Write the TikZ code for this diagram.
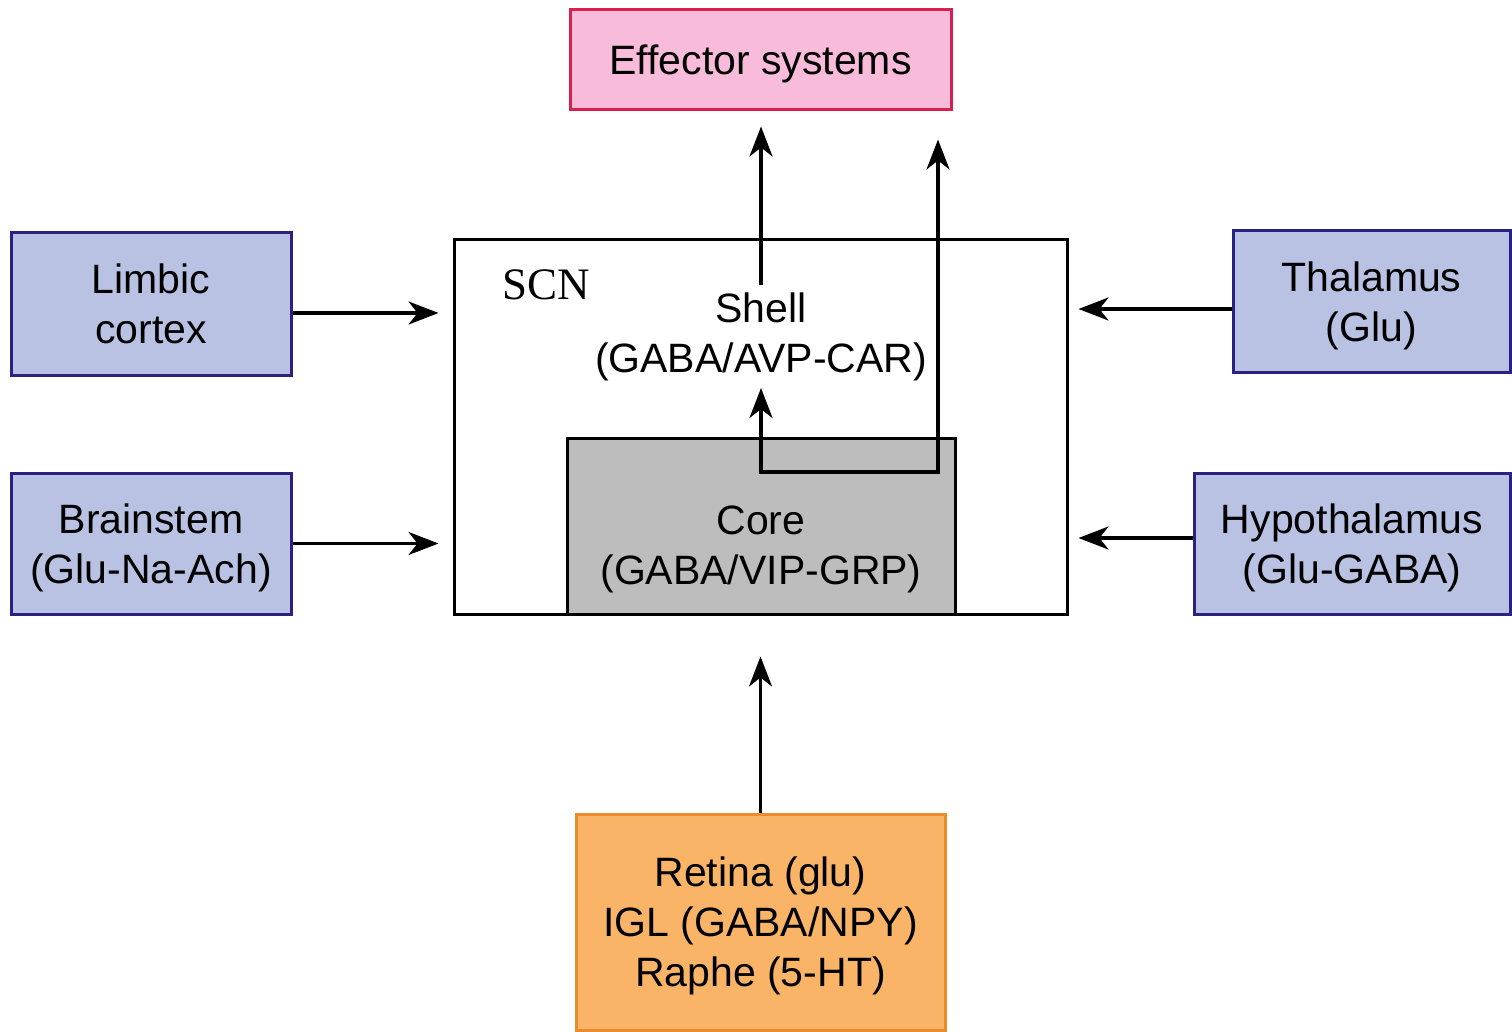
\documentclass[tikz,border=0pt]{standalone}
\usepackage{fontspec}
\setmainfont{Liberation Sans}
\newfontfamily\scnfont{Liberation Serif}
\usetikzlibrary{arrows.meta,positioning}
\definecolor{pinkfill}{HTML}{F8BBD9}
\definecolor{pinkline}{HTML}{D6204F}
\definecolor{bluefill}{HTML}{B9C2E2}
\definecolor{blueline}{HTML}{2A2183}
\definecolor{orangefill}{HTML}{F9B468}
\definecolor{orangeline}{HTML}{EC8B2A}
\definecolor{corefill}{HTML}{BDBDBD}

\begin{document}
\begin{tikzpicture}[x=1pt,y=-1pt,
  txt/.style={align=center,inner sep=0pt,text depth=0pt,font=\fontsize{41}{50}\selectfont},
  box/.style={txt,draw,line width=3pt},
  inbox/.style={box,fill=bluefill,draw=blueline,minimum width=280pt,minimum height=141pt},
  >={Stealth[length=30pt,width=23pt,inset=9pt]},
  conn/.style={line width=3.2pt,->}]
  \useasboundingbox (0,0) rectangle (1512,1032);
  % targets and inputs
  \node[box,fill=pinkfill,draw=pinkline,minimum width=381pt,minimum height=100pt] (effector) at (760.5,60) {Effector systems};
  \node[inbox,minimum height=142pt] (limbic) at (151,304) {Limbic\\cortex};
  \node[inbox] (brainstem) at (151,543.5) {Brainstem\\(Glu-Na-Ach)};
  \node[inbox,minimum width=277pt] (thalamus) at (1371.5,301.5) {Thalamus\\(Glu)};
  \node[inbox,minimum width=316pt] (hypothal) at (1352,543.5) {Hypothalamus\\(Glu-GABA)};
  \node[box,fill=orangefill,draw=orangeline,minimum width=369pt,minimum height=216pt] (retina) at (760.5,922) {Retina (glu)\\IGL (GABA/NPY)\\Raphe (5-HT)};
  % the nucleus
  \node[draw,line width=3pt,minimum width=613pt,minimum height=374pt] (scn) at (760.5,427) {};
  \node[draw,line width=3pt,fill=corefill,minimum width=388pt,minimum height=176pt] (core) at (761,526) {};
  \node[font=\scnfont\fontsize{45}{50}\selectfont] (scnlabel) at (546,285) {SCN};
  \node[txt] (shelltxt) at (761,333) {Shell\\(GABA/AVP-CAR)};
  \node[txt] (coretxt) at (761,545) {Core\\(GABA/VIP-GRP)};
  \coordinate (shelltop) at (761,285);
  \coordinate (shellbot) at (761,388);
  \coordinate (corein) at (938,472);
  % connections
  \draw[conn,shorten >=14pt] ([yshift=-9pt]limbic.east) -- ([yshift=-9pt]limbic.east -| scn.west);
  \draw[conn,shorten >=14pt] (brainstem.east) -- (brainstem.east -| scn.west);
  \draw[conn,shorten >=10pt] ([yshift=-7.5pt]thalamus.west) -- ([yshift=-7.5pt]thalamus.west -| scn.east);
  \draw[conn,shorten >=10pt] ([yshift=5.5pt]hypothal.west) -- ([yshift=5.5pt]hypothal.west -| scn.east);
  \draw[conn,shorten >=41pt] (retina.north) -- (retina.north |- scn.south);
  \draw[conn,shorten >=15pt] (shelltop) -- (shelltop |- effector.south);
  \draw[conn,<->,shorten >=28pt] (shellbot) |- (corein) -- (corein |- effector.south);
\end{tikzpicture}
\end{document}
